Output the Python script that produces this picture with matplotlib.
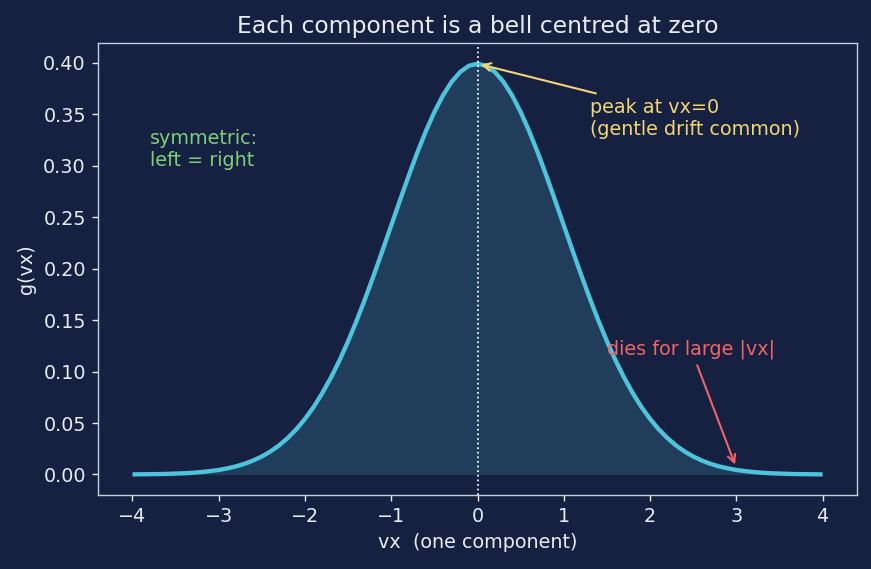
import matplotlib
matplotlib.use("Agg")
import matplotlib.pyplot as plt
import numpy as np

# right half of the bell, vx = 0.0 .. 4.0 step 0.1
vx_half = [0.0, 0.1, 0.2, 0.3, 0.4, 0.5, 0.6, 0.7, 0.8, 0.9,
           1.0, 1.1, 1.2, 1.3, 1.4, 1.5, 1.6, 1.7, 1.8, 1.9,
           2.0, 2.1, 2.2, 2.3, 2.4, 2.5, 2.6, 2.7, 2.8, 2.9,
           3.0, 3.1, 3.2, 3.3, 3.4, 3.5, 3.6, 3.7, 3.8, 3.9, 4.0]
g_half = [0.3989, 0.3970, 0.3910, 0.3814, 0.3683, 0.3521, 0.3332, 0.3123, 0.2897, 0.2661,
          0.2420, 0.2179, 0.1942, 0.1714, 0.1497, 0.1295, 0.1109, 0.0940, 0.0790, 0.0656,
          0.0540, 0.0440, 0.0355, 0.0283, 0.0224, 0.0175, 0.0136, 0.0104, 0.0079, 0.0060,
          0.0044, 0.0033, 0.0024, 0.0017, 0.0012, 0.0009, 0.0006, 0.0004, 0.0003, 0.0002, 0.0001]

# symmetric: left = right
vx = [-v for v in vx_half[:0:-1]] + vx_half
gvx = g_half[:0:-1] + g_half

bg = '#162040'
fg = '#e8ecf4'

fig, ax = plt.subplots(figsize=(6.968, 4.552), dpi=125)
fig.patch.set_facecolor(bg)
ax.set_facecolor(bg)
fig.subplots_adjust(left=0.1125, right=0.984, top=0.924, bottom=0.13)

ax.fill_between(vx, gvx, color='#4fc3dc', alpha=0.18, linewidth=0)
ax.plot(vx, gvx, color='#4fc3dc', lw=2.5, solid_capstyle='butt')
ax.axvline(0, color='white', ls=':', lw=1.0)

ax.annotate('peak at vx=0\n(gentle drift common)', xy=(0.0, 0.399), xytext=(1.3, 0.33),
            color='#f2d675', fontsize=11,
            arrowprops=dict(arrowstyle='->', color='#f2d675', lw=1.2))
ax.annotate('dies for large |vx|', xy=(3.0, 0.0065), xytext=(1.5, 0.117),
            color='#f0646a', fontsize=11,
            arrowprops=dict(arrowstyle='->', color='#f0646a', lw=1.2))
ax.text(-3.8, 0.30, 'symmetric:\nleft = right', color='#7fcf7a', fontsize=11)

ax.set_title('Each component is a bell centred at zero', color=fg, fontsize=13.5)
ax.set_xlabel('vx  (one component)', color=fg, fontsize=11)
ax.set_ylabel('g(vx)', color=fg, fontsize=11)
ax.set_xticks([-4, -3, -2, -1, 0, 1, 2, 3, 4])
ax.set_yticks([0.0, 0.05, 0.10, 0.15, 0.20, 0.25, 0.30, 0.35, 0.40])
ax.tick_params(colors=fg, labelsize=11)
for s in ax.spines.values():
    s.set_color('#c8d0e0')

fig.savefig('out.png', dpi=125, facecolor=bg)
